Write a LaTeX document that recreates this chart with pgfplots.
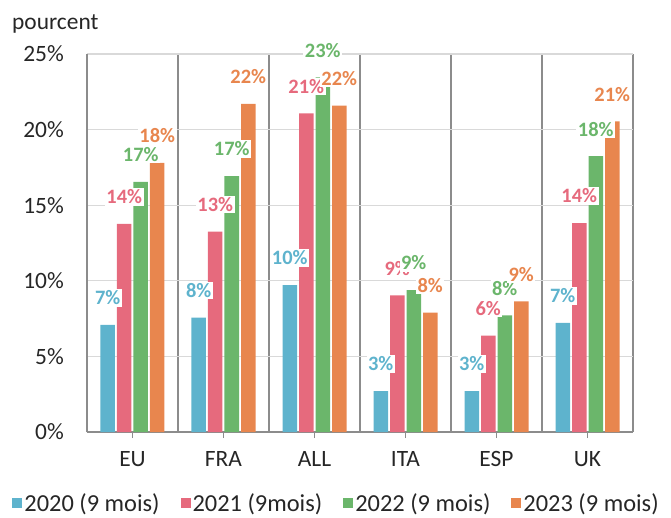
\documentclass[border=0pt]{standalone}
\usepackage{fontspec}
\setmainfont{Carlito}
\usepackage{pgfplots}
\pgfplotsset{compat=1.18}
\definecolor{cA}{HTML}{5EB3CD}
\definecolor{cB}{HTML}{E66A7D}
\definecolor{cC}{HTML}{6BB66B}
\definecolor{cD}{HTML}{E8864E}
\definecolor{axgray}{HTML}{8C8C8C}
\definecolor{gridgray}{HTML}{D9D9D9}
\definecolor{txt}{HTML}{262626}
\pgfplotstableread{
x s20 s21 s22 s23
0 7.08 13.76 16.55 17.8
1 7.56 13.25 16.93 21.7
2 9.72 21.08 23.45 21.58
3 2.71 9.04 9.39 7.89
4 2.71 6.37 7.72 8.64
5 7.21 13.82 18.25 20.55
}\data
\pgfplotsset{
  base/.style={scale only axis, width=546bp, height=378bp,
    at={(0,0)}, anchor=south west,
    xmin=-0.5, xmax=5.5, ymin=0, ymax=25,
    ybar, bar width=14.5bp,
    /pgf/number format/assume math mode=true},
  lbl/.style={draw=none, fill=none,
    nodes near coords={\pgfmathprintnumber[fixed,precision=0,assume math mode=true]{\pgfplotspointmeta}\%},
    every node near coord/.append style={font=\bfseries\fontsize{20.5}{24}\selectfont, fill=white, inner sep=1.5bp, anchor=center, yshift=27bp, text=#1}},
}
\begin{document}
\begin{tikzpicture}
\path[use as bounding box] (-87bp,-86bp) rectangle (584bp,432bp);
\begin{axis}[
  base,
  axis lines*=left,
  axis line style={draw=axgray, line width=1.5bp},
  xtick={0,1,2,3,4,5},
  xticklabels={EU,FRA,ALL,ITA,ESP,UK},
  minor xtick={-0.5,0.5,1.5,2.5,3.5,4.5,5.5},
  xminorgrids,
  minor grid style={draw=axgray, line width=1.5bp},
  minor tick length=0pt,
  tick align=outside,
  major tick length=6bp,
  xtick style={draw=axgray, line width=1.5bp},
  ytick style={draw=none},
  ytick={0,5,10,15,20,25},
  ymajorgrids,
  major grid style={draw=gridgray, line width=1.2bp},
  yticklabel={\pgfmathprintnumber{\tick}\%},
  tick label style={font=\fontsize{23.5}{27}\selectfont, text=txt},
  yticklabel style={inner sep=0pt, xshift=-17bp},
  xticklabel style={inner sep=0pt, yshift=-13bp},
  legend columns=4,
  legend style={draw=none, fill=none, at={(0.457,-0.157)}, anchor=north, inner sep=0pt,
    font=\fontsize{24.5}{27}\selectfont, text=txt,
    /tikz/every even column/.append style={column sep=19bp}},
  legend image code/.code={\fill[#1] (0bp,-5bp) rectangle (10bp,5bp);},
]
\addplot[fill=cA, draw=none, bar shift=-24.75bp] table[x=x,y=s20] {\data};
\addplot[fill=cB, draw=none, bar shift=-8.25bp] table[x=x,y=s21] {\data};
\addplot[fill=cC, draw=none, bar shift=8.25bp] table[x=x,y=s22] {\data};
\addplot[fill=cD, draw=none, bar shift=24.75bp] table[x=x,y=s23] {\data};
\legend{2020 (9 mois),2021 (9mois),2022 (9 mois),2023 (9 mois)}
\end{axis}
\begin{axis}[base, hide axis]
\addplot[lbl=cA, bar shift=-24.75bp] table[x=x,y=s20] {\data};
\addplot[lbl=cB, bar shift=-8.25bp] table[x=x,y=s21] {\data};
\addplot[lbl=cC, bar shift=8.25bp] table[x=x,y=s22] {\data};
\addplot[lbl=cD, bar shift=24.75bp] table[x=x,y=s23] {\data};
\end{axis}
\node[anchor=base west, font=\fontsize{23.5}{27}\selectfont, text=txt, inner sep=0pt] at (-75bp,402bp) {pourcent};
\end{tikzpicture}
\end{document}
